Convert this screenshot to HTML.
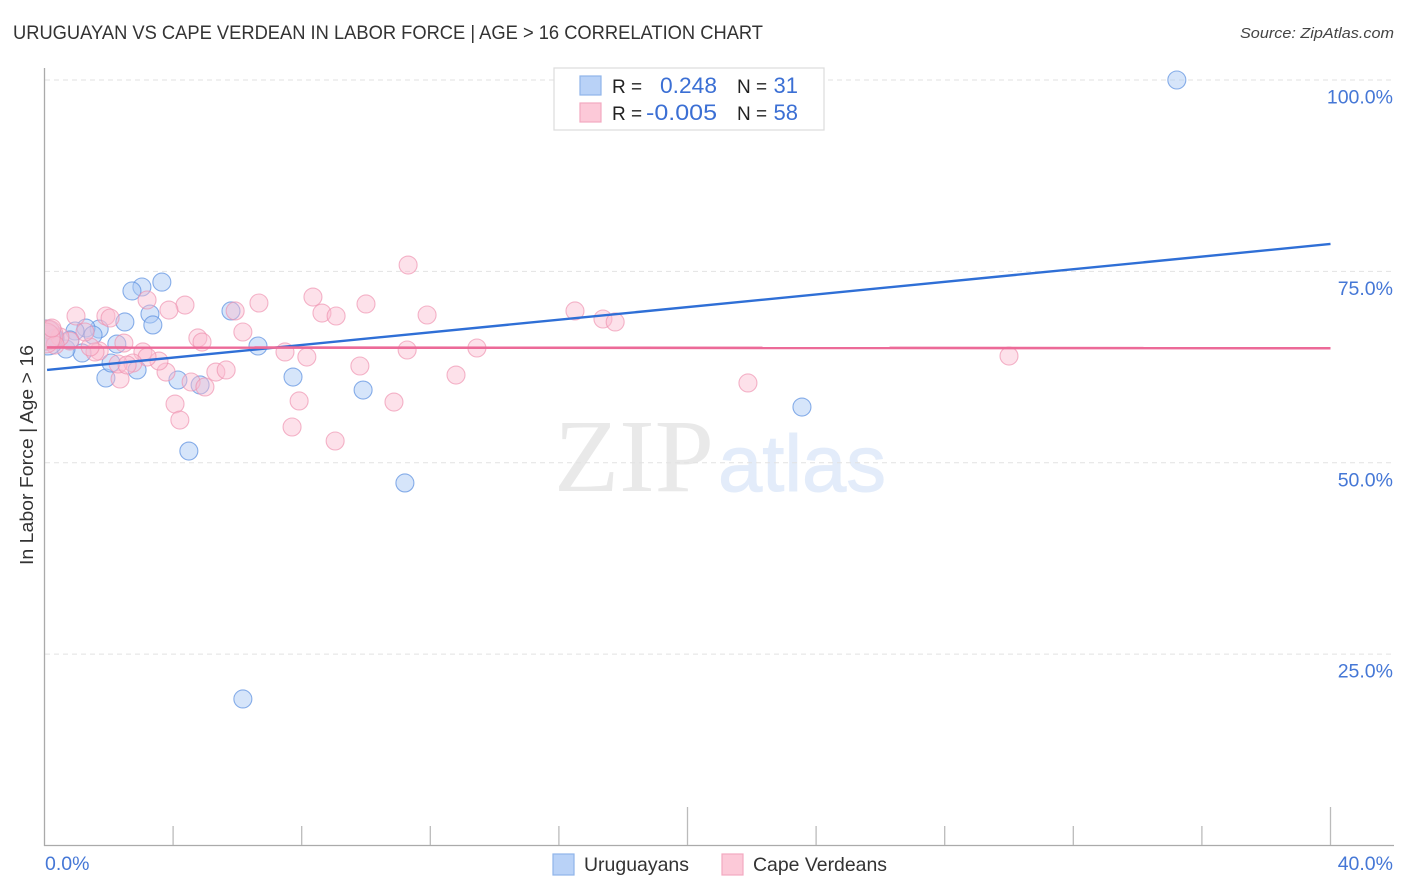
<!DOCTYPE html>
<html>
<head>
<meta charset="utf-8">
<style>
html,body{margin:0;padding:0;background:#fff}
svg{display:block;font-family:"Liberation Sans",sans-serif}
</style>
</head>
<body>
<svg id="chart" width="1406" height="892" viewBox="0 0 1406 892" xmlns="http://www.w3.org/2000/svg">
<defs><clipPath id="plot-clip"><rect x="45" y="60" width="1349" height="785"/></clipPath></defs>
<text x="13" y="39" font-size="19" fill="#333" textLength="750" lengthAdjust="spacingAndGlyphs">URUGUAYAN VS CAPE VERDEAN IN LABOR FORCE | AGE &gt; 16 CORRELATION CHART</text>
<text x="1394" y="38" font-size="15" font-style="italic" fill="#444" text-anchor="end" textLength="154" lengthAdjust="spacingAndGlyphs">Source: ZipAtlas.com</text>
<g id="watermark">
<text x="554" y="491" font-family="'Liberation Serif',serif" font-size="104" fill="#e9e9e9" textLength="160" lengthAdjust="spacingAndGlyphs">ZIP</text>
<text x="718" y="491" font-family="'Liberation Sans',sans-serif" font-size="80" fill="#e3ecfa" stroke="#e3ecfa" stroke-width="1" textLength="168" lengthAdjust="spacingAndGlyphs">atlas</text>
</g>
<g id="grid"></g>
<g id="axes"></g>
<g id="points" clip-path="url(#plot-clip)"></g>
<g id="trends"></g>
<g>
<rect x="554" y="68" width="270" height="62" fill="#fff" stroke="#dcdcdc" stroke-width="1.2"/>
<rect x="580" y="76" width="21" height="19" fill="#b9d2f7" stroke="#8fb5ea" stroke-width="1.2"/>
<rect x="580" y="103" width="21" height="19" fill="#fcc9d8" stroke="#f2a9c0" stroke-width="1.2"/>
<text x="612" y="93" font-size="19" fill="#222">R =</text>
<text x="717" y="93" font-size="22" fill="#3b6fd4" text-anchor="end" textLength="57" lengthAdjust="spacingAndGlyphs">0.248</text>
<text x="737" y="93" font-size="19" fill="#222">N =</text>
<text x="798" y="93" font-size="22" fill="#3b6fd4" text-anchor="end">31</text>
<text x="612" y="120" font-size="19" fill="#222">R =</text>
<text x="717" y="120" font-size="22" fill="#3b6fd4" text-anchor="end" textLength="71" lengthAdjust="spacingAndGlyphs">-0.005</text>
<text x="737" y="120" font-size="19" fill="#222">N =</text>
<text x="798" y="120" font-size="22" fill="#3b6fd4" text-anchor="end">58</text>
</g>
<text transform="translate(33,455) rotate(-90)" font-size="18.5" fill="#333" text-anchor="middle" textLength="220" lengthAdjust="spacingAndGlyphs">In Labor Force | Age &gt; 16</text>
<g>
<rect x="553" y="854" width="21" height="21" fill="#b9d2f7" stroke="#8fb5ea" stroke-width="1.2"/>
<text x="584" y="871" font-size="19.5" fill="#333" textLength="105" lengthAdjust="spacingAndGlyphs">Uruguayans</text>
<rect x="722" y="854" width="21" height="21" fill="#fcc9d8" stroke="#f2a9c0" stroke-width="1.2"/>
<text x="753" y="871" font-size="19.5" fill="#333" textLength="134" lengthAdjust="spacingAndGlyphs">Cape Verdeans</text>
</g>
</svg>
<script>
const yTickValues = [100, 75, 50, 25];
const yTickLabels = ['100.0%', '75.0%', '50.0%', '25.0%'];
const xTickValues = [4, 8, 12, 16, 20, 24, 28, 32, 36, 40];
const xMajorTicks = [20, 40];
const xEndLabels = ['0.0%', '40.0%'];
const uruguayanX = [35.22,23.56,11.21,6.64,7.73,9.91,6.17,4.49,4.84,4.15,5.8,3.65,3.03,2.72,3.28,3.37,2.5,2.88,1.91,2.07,2.25,1.7,1.29,0.95,1.51,1.17,0.67,0.79,0.33,0.11,0.05];
const uruguayanY = [100,57.28,47.36,65.25,61.2,59.5,19.14,51.53,60.16,60.81,69.83,73.6,72.96,72.44,69.43,68,68.39,62.12,61.07,63.03,65.51,67.47,67.6,67.21,66.69,64.34,64.86,66.04,66.3,66.04,66.69];
const capeVerdeanX = [11.31,3.19,4.37,3.87,6.67,5.93,8.35,8.63,9.07,10,11.9,16.5,17.37,17.75,0.98,1.91,2.04,6.17,4.77,4.9,7.48,8.16,9.81,11.28,13.45,12.8,21.88,30,10.87,7.92,7.7,9.04,4.06,4.21,4.56,4.99,5.33,5.65,3.78,3.56,3.06,3.19,2.75,2.35,2.29,2.47,1.7,1.57,1.42,0.79,0.48,0.17,0.11,0.33,0.02,1.26,2.57,0.23];
const capeVerdeanY = [75.83,71.26,70.6,69.95,70.87,69.83,71.65,69.56,69.17,70.74,69.3,69.83,68.78,68.39,69.17,69.17,68.91,67.08,66.3,65.77,64.47,63.81,62.64,64.73,64.99,61.46,60.42,63.94,57.93,58.07,54.67,52.84,57.67,55.58,60.55,59.9,61.85,62.12,61.85,63.29,64.47,63.81,63.03,60.94,62.9,65.64,64.6,64.47,65.12,65.9,66.43,67.34,66.69,65.38,66.3,67.08,62.77,67.6];
const uruguayanTrend = [62.12, 78.58];
const capeVerdeanTrend = [65.06, 64.96];
const trendDomain = [0.08, 40];

const NS = 'http://www.w3.org/2000/svg';
const sx = v => 44.5 + v * 32.15;
const sy = v => 845.5 - v * 7.655;
const radius = v => v < 0.12 ? 15 : 9;
function mk(tag, parent, attrs) {
  const el = document.createElementNS(NS, tag);
  for (const k in attrs) el.setAttribute(k, attrs[k]);
  parent.appendChild(el);
  return el;
}
const grid = document.getElementById('grid');
const axes = document.getElementById('axes');
const pts = document.getElementById('points');
const trends = document.getElementById('trends');

yTickValues.forEach((v, i) => {
  const g = mk('line', grid, {x1: 45, x2: 1394, y1: sy(v), y2: sy(v), stroke: '#e2e2e2', 'stroke-width': 1, 'stroke-dasharray': '5 4'});
  
  
  const t = mk('text', axes, {x: 1393, y: sy(v) + 23.5, 'font-size': 19.5, fill: '#4577d6', 'text-anchor': 'end'});
  
  
  t.textContent = yTickLabels[i];
});

const yAxis = mk('line', axes, {x1: 44.5, x2: 44.5, y1: 68, y2: 846, stroke: '#aaa', 'stroke-width': 1.3});


const xAxis = mk('line', axes, {x1: 44, x2: 1394, y1: 845.5, y2: 845.5, stroke: '#aaa', 'stroke-width': 1.3});



xTickValues.forEach(v => {
  const top = xMajorTicks.includes(v) ? 807 : 826;
  const l = mk('line', axes, {x1: sx(v), x2: sx(v), y1: top, y2: 845, stroke: '#bbb', 'stroke-width': 1.3});
  
  
});

const x0 = mk('text', axes, {x: 45, y: 870, 'font-size': 19.5, fill: '#4577d6'});


x0.textContent = xEndLabels[0];
const x1 = mk('text', axes, {x: 1393, y: 870, 'font-size': 19.5, fill: '#4577d6', 'text-anchor': 'end'});


x1.textContent = xEndLabels[1];

uruguayanX.forEach((v, i) => {
  const c = mk('circle', pts, {cx: sx(v), cy: sy(uruguayanY[i]), r: radius(v), fill: '#a9c8f5', 'fill-opacity': 0.48, stroke: '#5a8fe0', 'stroke-opacity': 0.7, 'stroke-width': 1.1});
  
  
});
capeVerdeanX.forEach((v, i) => {
  const c = mk('circle', pts, {cx: sx(v), cy: sy(capeVerdeanY[i]), r: radius(v), fill: '#fbbdd0', 'fill-opacity': 0.45, stroke: '#ee8fae', 'stroke-opacity': 0.65, 'stroke-width': 1.1});
  
  
});

const blueTrend = mk('line', trends, {x1: sx(trendDomain[0]), x2: sx(trendDomain[1]), y1: sy(uruguayanTrend[0]), y2: sy(uruguayanTrend[1]), stroke: '#2f6fd6', 'stroke-width': 2.4});


const pinkTrend = mk('line', trends, {x1: sx(trendDomain[0]), x2: sx(trendDomain[1]), y1: sy(capeVerdeanTrend[0]), y2: sy(capeVerdeanTrend[1]), stroke: '#ec6a98', 'stroke-width': 2.6});


</script>
</body>
</html>
